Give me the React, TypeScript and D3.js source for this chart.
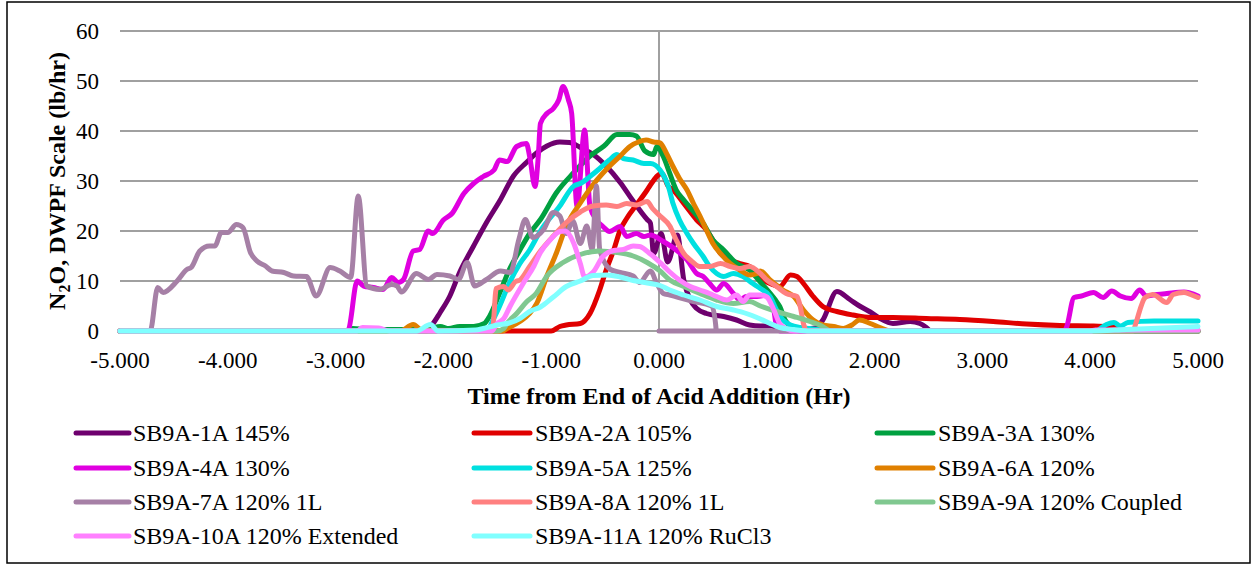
import React from "react";
import * as d3 from "d3";

type Pt = [number, number];

const seriesNames: string[] = [
  "SB9A-1A 145%",
  "SB9A-2A 105%",
  "SB9A-3A 130%",
  "SB9A-4A 130%",
  "SB9A-5A 125%",
  "SB9A-6A 120%",
  "SB9A-7A 120% 1L",
  "SB9A-8A 120% 1L",
  "SB9A-9A 120% Coupled",
  "SB9A-10A 120% Extended",
  "SB9A-11A 120% RuCl3",
];

const seriesColors: string[] = [
  "#6E006E",
  "#E00000",
  "#00A040",
  "#E000E0",
  "#00E0E0",
  "#E08000",
  "#A680A6",
  "#FF8080",
  "#80C890",
  "#FF80FF",
  "#80FFFF",
];

const s1A: Pt[] = [[-5,0],[-2.16,0],[-2.12,0.8],[-2.03,3.7],[-1.94,7],[-1.85,11.7],[-1.72,17],[-1.60,21.7],[-1.47,26.3],[-1.35,31],[-1.23,33.7],[-1.13,35.7],[-1.04,37],[-0.92,37.8],[-0.83,37.7],[-0.73,36.7],[-0.61,35.3],[-0.49,33],[-0.36,29.7],[-0.24,26],[-0.11,22.3],[-0.08,21.6],[-0.05,15.5],[0.02,19.5],[0.08,13.8],[0.17,19.2],[0.23,10.2],[0.29,6.2],[0.35,4.5],[0.44,3.5],[0.60,2.9],[0.72,2.2],[0.84,1.2],[0.94,1.0],[1.05,1.0],[1.1,0.4],[1.3,0.3],[1.45,0.6],[1.52,2.2],[1.65,7.9],[1.77,6.3],[1.86,5.0],[1.96,3.8],[2.05,2.5],[2.17,1.5],[2.33,1.9],[2.42,1.5],[2.48,0.7],[2.52,0],[5,0]];

const s2A: Pt[] = [[-5,0],[-1.0,0],[-0.92,0.9],[-0.86,1.2],[-0.73,1.5],[-0.64,3.5],[-0.55,8.2],[-0.49,12.2],[-0.42,16.2],[-0.36,20.2],[-0.30,22.5],[-0.21,25.2],[-0.11,28.2],[-0.08,29.2],[0.025,31.5],[0.087,28.9],[0.13,28.2],[0.23,25.5],[0.35,22.2],[0.44,20.2],[0.50,18.2],[0.57,15.5],[0.66,14.2],[0.75,13.5],[0.84,12.9],[0.94,10.5],[1.03,9.5],[1.12,8.9],[1.22,11.2],[1.28,10.9],[1.34,9.5],[1.43,6.9],[1.52,4.9],[1.65,3.9],[1.80,3.2],[1.96,2.7],[2.17,2.7],[2.48,2.5],[2.79,2.3],[3.10,1.9],[3.41,1.4],[3.72,1.1],[4.03,1.0],[4.28,0.8]];

const s3A: Pt[] = [[-5,0],[-2.9,0],[-2.84,0.5],[-2.7,0.3],[-2.2,0.3],[-2.12,0.5],[-2.03,0.9],[-1.95,0.5],[-1.85,0.9],[-1.72,0.9],[-1.62,1.5],[-1.57,3.0],[-1.48,7.5],[-1.39,12.2],[-1.29,16.2],[-1.20,19.5],[-1.10,22.3],[-0.95,27.7],[-0.79,31.7],[-0.64,35],[-0.51,37],[-0.39,39.3],[-0.27,39.3],[-0.21,39],[-0.13,36],[-0.05,35.3],[-0.02,36.9],[0.04,34.9],[0.10,31.5],[0.16,28.2],[0.23,26.2],[0.32,23.9],[0.41,21.5],[0.50,18.2],[0.60,16.2],[0.72,13.5],[0.84,12.2],[0.94,9.8],[1.08,6.2],[1.12,4.9],[1.17,2.2],[1.22,0.9],[1.3,0],[5,0]];

const s4A: Pt[] = [[-5,0],[-2.9,0],[-2.88,0.3],[-2.80,10],[-2.74,9],[-2.65,8.7],[-2.56,8.3],[-2.48,10.7],[-2.42,9.7],[-2.37,10.3],[-2.28,16],[-2.22,16.3],[-2.14,20],[-2.10,19.5],[-2.0,22.2],[-1.92,23.5],[-1.81,27.5],[-1.72,29.5],[-1.63,30.9],[-1.53,32.2],[-1.48,34.2],[-1.41,33.9],[-1.32,36.9],[-1.23,37.5],[-1.20,34.9],[-1.15,28.9],[-1.12,34.9],[-1.10,41.5],[-1.04,43.5],[-0.98,44.5],[-0.93,46.2],[-0.89,48.9],[-0.84,46.2],[-0.81,43.5],[-0.76,24.9],[-0.69,40.2],[-0.64,24.9],[-0.58,22.2],[-0.52,20.9],[-0.46,19.9],[-0.36,20.9],[-0.30,18.9],[-0.21,19.5],[-0.14,18.9],[-0.08,19.2],[0.04,17.9],[0.16,16.2],[0.26,14.2],[0.35,11.5],[0.41,10.9],[0.47,9.5],[0.535,8.2],[0.60,9.5],[0.69,7.5],[0.75,6.2],[0.81,6.9],[0.91,6.9],[1.0,7.2],[1.05,6.0],[1.09,1.0],[1.12,0],[3.76,0],[3.78,0.7],[3.85,6.7],[3.92,7],[4.03,7.7],[4.12,6.7],[4.20,8],[4.28,7],[4.38,6.5],[4.46,8.2],[4.52,7],[4.62,7.3],[4.71,7.5],[4.87,7.8],[5.0,7]];

const s5A: Pt[] = [[-5,0],[-1.6,0],[-1.54,2.2],[-1.48,4.9],[-1.39,9.5],[-1.29,13.5],[-1.20,16.2],[-1.10,20],[-0.92,25],[-0.79,29],[-0.73,29.5],[-0.64,30.9],[-0.55,32.5],[-0.46,34.2],[-0.39,35.3],[-0.33,34.5],[-0.24,34.2],[-0.14,33.5],[-0.08,33.5],[0.01,32.2],[0.087,28.9],[0.13,25.5],[0.19,22.2],[0.26,19.5],[0.32,17.5],[0.41,14.9],[0.47,12.9],[0.535,11.5],[0.60,10.9],[0.69,11.5],[0.78,10.9],[0.87,9.5],[0.94,8.5],[1.03,6.9],[1.09,4.2],[1.15,2.2],[1.22,1.2],[1.31,0.7],[1.40,0.5],[1.6,0],[4.05,0],[4.15,1.3],[4.22,1.7],[4.28,1.0],[4.35,1.7],[4.59,2],[5.0,2]];

const s6A: Pt[] = [[-5,0],[-2.4,0],[-2.28,1.3],[-2.2,0.2],[-1.45,0],[-1.41,0.5],[-1.29,1.9],[-1.20,3.5],[-1.13,5.7],[-1.04,11],[-0.95,15.7],[-0.86,21],[-0.73,25.6],[-0.61,29.3],[-0.48,32.5],[-0.36,35],[-0.27,36.9],[-0.18,37.9],[-0.12,38.2],[-0.05,37.8],[0.01,37.6],[0.07,35.5],[0.13,32.9],[0.19,30.5],[0.26,28.2],[0.32,25.5],[0.38,23],[0.44,20.2],[0.50,17.5],[0.57,15.5],[0.66,13.5],[0.75,12.2],[0.84,11.2],[0.91,11.5],[0.94,12],[1.03,10.2],[1.15,8.2],[1.25,6.9],[1.34,4.2],[1.43,2.2],[1.52,1.2],[1.62,0.9],[1.71,0.5],[1.79,1.2],[1.86,2.2],[1.96,1.5],[2.05,0.7],[2.15,0],[5,0]];

const s7A: Pt[] = [[-5,0],[-4.72,0],[-4.65,8.7],[-4.60,7.7],[-4.47,10],[-4.38,12.3],[-4.34,12.7],[-4.26,16],[-4.17,17],[-4.12,17],[-4.06,19.7],[-4.0,19.7],[-3.92,21.3],[-3.86,20.7],[-3.79,15.7],[-3.73,14],[-3.65,13],[-3.59,12],[-3.48,11.7],[-3.39,11],[-3.27,10.9],[-3.18,7],[-3.05,12.7],[-2.96,12],[-2.86,10.7],[-2.79,27],[-2.71,9],[-2.59,8.3],[-2.48,9.3],[-2.43,9],[-2.39,7.8],[-2.25,11.5],[-2.14,10.3],[-2.06,11.3],[-1.94,11],[-1.86,10.3],[-1.78,13.7],[-1.71,9],[-1.60,10.3],[-1.47,12],[-1.38,11.7],[-1.30,18.3],[-1.24,22.3],[-1.17,18.7],[-1.07,20.3],[-0.98,23.7],[-0.92,23],[-0.86,19.5],[-0.80,22],[-0.73,17.5],[-0.67,21],[-0.62,16.3],[-0.58,29],[-0.55,16.3],[-0.45,12.3],[-0.36,11.7],[-0.24,11],[-0.18,9.7],[-0.08,12],[-0.02,9.5],[0.04,7.5],[0.10,7.2],[0.30,6],[0.49,5],[0.53,0.3],[0.0,0],[5,0]];

const s8A: Pt[] = [[-5,0],[-1.56,0],[-1.54,1],[-1.51,8.5],[-1.44,8.9],[-1.40,8.2],[-1.33,9.9],[-1.29,10.2],[-1.20,12.9],[-1.10,16],[-0.98,19],[-0.86,21.7],[-0.73,23.8],[-0.61,25],[-0.49,25.2],[-0.39,24.9],[-0.30,25.5],[-0.21,25.2],[-0.11,25.9],[-0.06,24.5],[0.01,23],[0.10,21],[0.16,18.2],[0.23,15.5],[0.29,14.2],[0.38,12.9],[0.47,12.9],[0.57,13.5],[0.66,12.9],[0.75,12.5],[0.84,12.9],[0.94,11.5],[1.0,10.2],[1.09,8.9],[1.18,7.5],[1.28,6.9],[1.31,4.9],[1.34,1.5],[1.37,0],[4.40,0],[4.42,1.3],[4.51,6.7],[4.58,7.3],[4.71,5.7],[4.77,7.3],[4.87,7.7],[4.93,7.3],[5.0,6.7]];

const s9A: Pt[] = [[-5,0],[-1.5,0],[-1.44,0.5],[-1.41,1.5],[-1.32,3.5],[-1.23,5.8],[-1.14,7.5],[-1.04,11],[-0.89,13.7],[-0.73,15.3],[-0.55,16],[-0.39,15.7],[-0.24,15],[-0.11,13.7],[0.01,12],[0.10,10.2],[0.23,8.9],[0.38,7.5],[0.535,6.2],[0.69,5.5],[0.84,5.9],[0.94,5],[1.09,3.9],[1.25,2.9],[1.40,1.9],[1.49,1.2],[1.6,0],[5,0]];

const s10A: Pt[] = [[-5,0],[-2.8,0],[-2.75,0.7],[-2.6,0.6],[-2.5,0],[-1.55,0],[-1.51,1.3],[-1.44,2.5],[-1.38,5],[-1.26,9.5],[-1.16,13],[-1.10,15.7],[-1.01,18.2],[-0.92,19.9],[-0.87,20],[-0.79,17.5],[-0.73,13.5],[-0.69,10.8],[-0.61,11.8],[-0.52,14.9],[-0.42,16.1],[-0.33,16.3],[-0.24,17],[-0.18,16.9],[-0.08,15.4],[0.01,13.7],[0.10,11.8],[0.19,10.2],[0.29,8.9],[0.38,8.2],[0.47,7.5],[0.535,6.9],[0.63,6.2],[0.72,7.2],[0.78,5.9],[0.84,7.2],[0.94,7.2],[1.0,6.8],[1.06,4.5],[1.12,1.5],[1.18,0.5],[1.25,0],[4.0,0],[4.05,0.2],[5,0.2]];

const s11A: Pt[] = [[-5,0],[-2.25,0],[-2.12,1.3],[-2.05,0],[-1.7,0.2],[-1.63,0.5],[-1.50,1.2],[-1.39,1.6],[-1.29,2.5],[-1.20,3.9],[-1.10,4.8],[-0.98,6.8],[-0.86,8.9],[-0.73,10],[-0.61,11.1],[-0.48,11.2],[-0.36,10.8],[-0.24,10.1],[-0.08,9.5],[0.01,9.1],[0.10,8.2],[0.23,7.2],[0.38,6.2],[0.535,4.9],[0.69,4.2],[0.81,3.5],[0.94,2.4],[1.03,1.5],[1.12,0.7],[1.25,0.3],[1.4,0],[4.0,0],[4.34,0.3],[5.0,0.9]];

const seriesData: Pt[][] = [s1A, s2A, s3A, s4A, s5A, s6A, s7A, s8A, s9A, s10A, s11A];

const xTicks: number[] = [-5, -4, -3, -2, -1, 0, 1, 2, 3, 4, 5];
const yTicks: number[] = [0, 10, 20, 30, 40, 50, 60];

const W = 1253;
const H = 566;
const FONT = "'Liberation Serif', 'Times New Roman', Times, serif";

// split a series wherever time runs backwards, so each run is monotone in x
function runs(d: Pt[]): Pt[][] {
  const out: Pt[][] = [];
  let cur: Pt[] = [];
  d.forEach((p, i) => {
    if (i > 0 && p[0] < d[i - 1][0]) {
      const last = cur[cur.length - 1];
      out.push(cur.concat([[last[0], p[1]]]));
      cur = [];
    }
    cur.push(p);
  });
  if (cur.length) out.push(cur);
  return out;
}

export default function App() {
  const x = d3.scaleLinear().domain([-5, 5]).range([120, 1198]);
  const y = d3.scaleLinear().domain([0, 60]).range([331, 31]);
  const line = d3
    .line<Pt>()
    .x((d) => x(d[0]))
    .y((d) => y(d[1]))
    .curve(d3.curveMonotoneX);

  const legendCols = [
    { lx1: 76, lx2: 129, tx: 133 },
    { lx1: 474, lx2: 530, tx: 535 },
    { lx1: 877, lx2: 933, tx: 938 },
  ];
  const legendRows = [433, 468, 502, 536];

  return (
    <svg
      width={W}
      height={H}
      style={{ position: "absolute", left: 0, top: 0, background: "#fff" }}
      fontFamily={FONT}
    >
      <rect x={0} y={0} width={W} height={H} fill="#fff" />
      <rect x={7} y={2} width={1243} height={561} fill="none" stroke="#000" strokeWidth={1.5} />

      {yTicks.map((t) => (
        <line key={"g" + t} x1={x(-5)} x2={x(5)} y1={y(t)} y2={y(t)} stroke="#a0a0a0" strokeWidth={2} />
      ))}
      <line x1={x(0)} x2={x(0)} y1={y(60)} y2={y(0)} stroke="#a0a0a0" strokeWidth={2} />

      {yTicks.map((t) => (
        <text key={"yl" + t} x={99} y={y(t) + 8} textAnchor="end" fontSize={23} fill="#000">
          {t}
        </text>
      ))}
      {xTicks.map((t) => (
        <text key={"xl" + t} x={x(t)} y={368} textAnchor="middle" fontSize={23} fill="#000">
          {t.toFixed(3)}
        </text>
      ))}

      <text
        transform={`translate(65, ${y(30)}) rotate(-90)`}
        textAnchor="middle"
        fontSize={24}
        fontWeight="bold"
        fill="#000"
      >
        N<tspan fontSize={16} dy={5}>2</tspan>
        <tspan dy={-5}>O, DWPF Scale (lb/hr)</tspan>
      </text>
      <text x={x(0)} y={404} textAnchor="middle" fontSize={24} fontWeight="bold" fill="#000">
        Time from End of Acid Addition (Hr)
      </text>

      {seriesData.map((d, i) => (
        <path
          key={"s" + i}
          d={runs(d).map((r) => line(r) || "").join("")}
          fill="none"
          stroke={seriesColors[i]}
          strokeWidth={5}
          strokeLinejoin="round"
          strokeLinecap="round"
        />
      ))}

      {seriesNames.map((name, i) => {
        const c = legendCols[i % 3];
        const ry = legendRows[Math.floor(i / 3)];
        return (
          <g key={"lg" + i}>
            <line x1={c.lx1} x2={c.lx2} y1={ry} y2={ry} stroke={seriesColors[i]} strokeWidth={5} strokeLinecap="round" />
            <text x={c.tx} y={ry + 8} fontSize={24} fill="#000">
              {name}
            </text>
          </g>
        );
      })}
    </svg>
  );
}
